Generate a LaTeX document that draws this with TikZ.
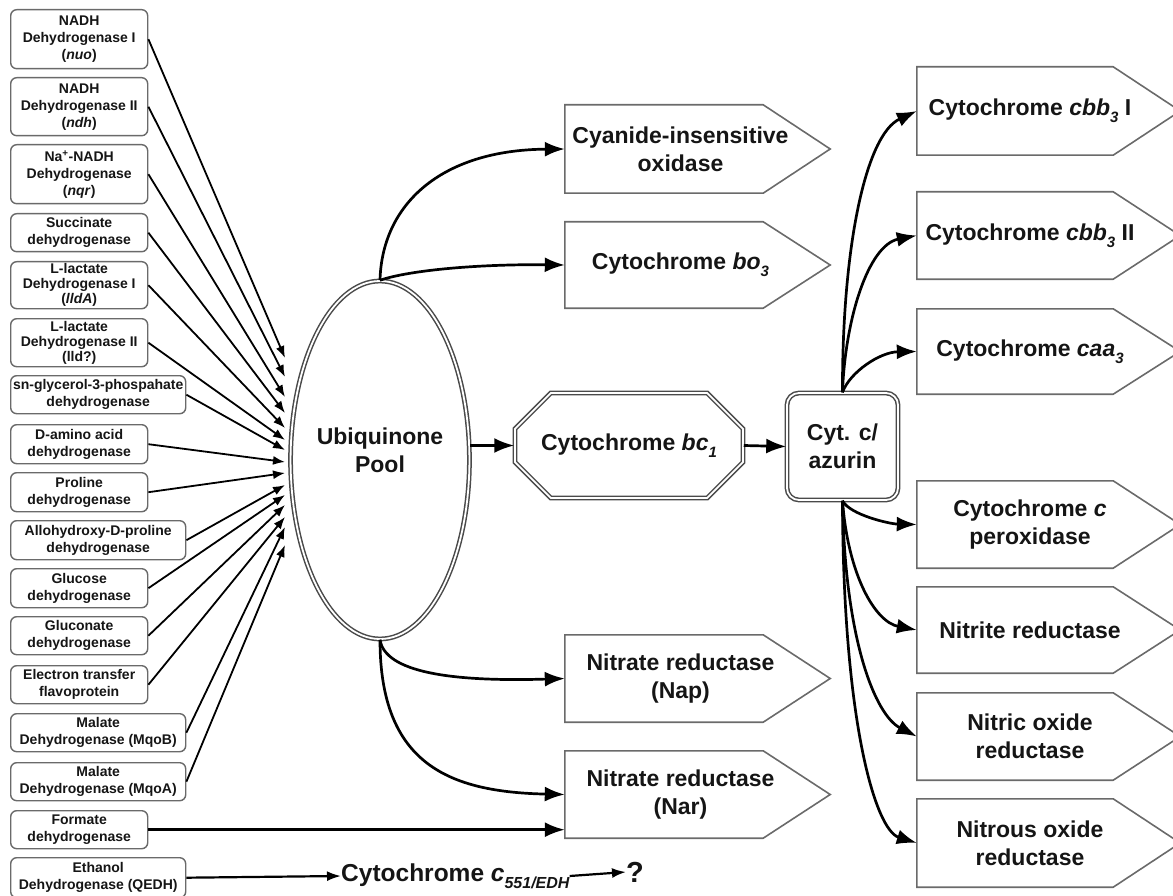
\documentclass[tikz,border=0pt]{standalone}
\usepackage{fontspec}
\setmainfont{Liberation Sans}
\usetikzlibrary{arrows.meta,shapes.geometric,shapes.misc}
\definecolor{edge}{HTML}{6A6A6A}
\definecolor{txt}{HTML}{151515}
\newcommand{\mysub}[1]{\raisebox{-0.3em}{\fontsize{15}{15}\selectfont\bfseries\itshape #1}}
\newcommand{\mysubb}[1]{\raisebox{-0.3em}{\fontsize{16}{16}\selectfont\bfseries\itshape #1}}
\newcommand{\pentout}[3]{\draw[pentline] (#1.north west) -- ([xshift=-#2]#1.north east) -- ([xshift=#3]#1.east) -- ([xshift=-#2]#1.south east) -- (#1.south west) -- cycle;}
\begin{document}
\begin{tikzpicture}[x=1pt,y=-1pt,
 lbox/.style={draw=edge, line width=1.4pt, rounded corners=6pt, fill=white, text=txt, font=\fontsize{14}{17}\selectfont\bfseries, align=center, inner sep=0pt, anchor=north west, minimum width=137pt},
 wide/.style={minimum width=175pt},
 tight/.style={font=\fontsize{14}{15}\selectfont\bfseries},
 big/.style={text=txt, font=\fontsize{23}{28}\selectfont\bfseries, align=center, inner sep=0pt},
 pent/.style={big, minimum height=#1},
 mid/.style={pent=#1, minimum width=231pt},
 rgt/.style={pent=#1, minimum width=226pt},
 pentline/.style={draw=edge, line width=1.6pt, line join=miter},
 dbl/.style={draw=edge!70!black, line width=1.5pt, double=white, double distance=1.8pt},
 inarr/.style={-{Latex[length=12pt,width=9pt]}, line width=1.8pt},
 botarr/.style={-{Latex[length=14pt,width=10pt]}, line width=2.2pt},
 bigarr/.style={-{Latex[length=20pt,width=15pt]}, line width=2.7pt}]
\useasboundingbox (0,0) rectangle (1173,896);
% left column
\node[lbox, minimum height=59pt] (nuo) at (10,9) {NADH\\Dehydrogenase I\\(\textit{nuo})};
\node[lbox, minimum height=58pt] (ndh) at (10,77) {NADH\\Dehydrogenase II\\(\textit{ndh})};
\node[lbox, minimum height=59pt] (nqr) at (10,144) {Na\textsuperscript{+}-NADH\\Dehydrogenase\\(\textit{nqr})};
\node[lbox, minimum height=38pt] (sdh) at (10,213) {Succinate\\dehydrogenase};
\node[lbox, tight, minimum height=47pt] (lldA) at (10,261) {L-lactate\\Dehydrogenase I\\(\textit{lldA})};
\node[lbox, tight, minimum height=48pt] (lld) at (10,318) {L-lactate\\Dehydrogenase II\\(lld?)};
\node[lbox, wide, minimum height=38pt] (glyc) at (10,375) {sn-glycerol-3-phospahate\\dehydrogenase};
\node[lbox, minimum height=39pt] (damino) at (10,424) {D-amino acid\\dehydrogenase};
\node[lbox, minimum height=39pt] (pro) at (10,472) {Proline\\dehydrogenase};
\node[lbox, wide, minimum height=39pt] (allo) at (10,520) {Allohydroxy-D-proline\\dehydrogenase};
\node[lbox, minimum height=39pt] (glc) at (10,568) {Glucose\\dehydrogenase};
\node[lbox, minimum height=38pt] (gln) at (10,616) {Gluconate\\dehydrogenase};
\node[lbox, minimum height=38pt] (etf) at (10,665) {Electron transfer\\flavoprotein};
\node[lbox, wide, minimum height=38pt] (mqoB) at (10,713) {Malate\\Dehydrogenase (MqoB)};
\node[lbox, wide, minimum height=38pt] (mqoA) at (10,762) {Malate\\Dehydrogenase (MqoA)};
\node[lbox, minimum height=38pt] (fdh) at (10,810) {Formate\\dehydrogenase};
\node[lbox, wide, minimum height=40pt] (qedh) at (10,857) {Ethanol\\Dehydrogenase (QEDH)};
\foreach \n/\y in {nuo/358, ndh/377, nqr/397, sdh/413, lldA/428, lld/440, glyc/450, damino/462, pro/473, allo/485, glc/495, gln/505, etf/517, mqoB/527, mqoA/545} {
  \coordinate (tip-\n) at (285,\y);
  \draw[inarr] (\n.east) -- (tip-\n);
}
% ubiquinone pool
\node[ellipse, dbl, minimum width=176pt, minimum height=358pt, big, text depth=20pt] (ub) at (380,460) {Ubiquinone\\Pool};
% middle column
\node[mid=88pt] (cyan) at (680.5,149) {Cyanide-insensitive\\oxidase};
\node[mid=86pt] (bo3) at (680.5,265) {Cytochrome \textit{bo}\mysub{3}};
\node[mid=87pt] (nap) at (680.5,678.5) {Nitrate reductase\\(Nap)};
\node[mid=87pt] (nar) at (680.5,794.5) {Nitrate reductase\\(Nar)};
\foreach \n in {cyan,bo3,nap,nar} {\pentout{\n}{33pt}{34pt}}
% bc1 and azurin
\node[chamfered rectangle, chamfered rectangle xsep=30pt, chamfered rectangle ysep=24pt, dbl, minimum width=228pt, minimum height=105pt, big] (bc) at (629,445.5) {Cytochrome \textit{bc}\mysub{1}};
\node[rectangle, dbl, rounded corners=12pt, minimum width=111pt, minimum height=107pt, big] (az) at (842.5,446.5) {Cyt. c/\\azurin};
% right column
\node[rgt=88pt] (cbbI) at (1030,111) {Cytochrome \textit{cbb}\mysub{3} I};
\node[rgt=87pt] (cbbII) at (1030,235.5) {Cytochrome \textit{cbb}\mysub{3} II};
\node[rgt=85pt] (caa) at (1030,351.5) {Cytochrome \textit{caa}\mysub{3}};
\node[rgt=87pt] (perox) at (1030,524.5) {Cytochrome \textit{c}\\peroxidase};
\node[rgt=86pt] (nir) at (1030,630) {Nitrite reductase};
\node[rgt=87pt] (nor) at (1030,736.5) {Nitric oxide\\reductase};
\node[rgt=88pt] (nos) at (1030,843) {Nitrous oxide\\reductase};
\foreach \n in {cbbI,cbbII,caa,perox,nir,nor,nos} {\pentout{\n}{30pt}{37pt}}
% bottom line
\node[big, font=\fontsize{24.5}{28}\selectfont\bfseries, anchor=west] (c551) at (341,876) {Cytochrome \textit{c}\mysubb{551/EDH}};
\node[big, font=\fontsize{29}{30}\selectfont\bfseries, anchor=west] (q) at (626,872) {?};
\draw[botarr] (qedh.east) -- (c551.west);
\draw[botarr] (c551.east) -- (q.west);
% connectors
\draw[bigarr] (ub.north) .. controls (382,205) and (440,150) .. (cyan.west);
\draw[bigarr] (ub.north) .. controls (410,270) and (480,264) .. (bo3.west);
\draw[bigarr] (ub.south) .. controls (385,672) and (450,682) .. (nap.west);
\draw[bigarr] (ub.south) .. controls (380,765) and (450,792) .. (nar.west);
\draw[bigarr] (fdh.east) -- (fdh.east -| nar.west);
\draw[bigarr] (ub.east |- bc.west) -- (bc.west);
\draw[bigarr] (bc.east) -- (az.west);
\draw[bigarr] (az.north) .. controls (842,250) and (865,135) .. (cbbI.west);
\draw[bigarr] (az.north) .. controls (845,320) and (868,245) .. (cbbII.west);
\draw[bigarr] (az.north) .. controls (850,372) and (880,352) .. (caa.west);
\draw[bigarr] (az.south) .. controls (850,515) and (890,524) .. (perox.west);
\draw[bigarr] (az.south) .. controls (848,575) and (875,622) .. (nir.west);
\draw[bigarr] (az.south) .. controls (845,640) and (875,715) .. (nor.west);
\draw[bigarr] (az.south) .. controls (843,720) and (875,830) .. (nos.west);
\end{tikzpicture}
\end{document}
